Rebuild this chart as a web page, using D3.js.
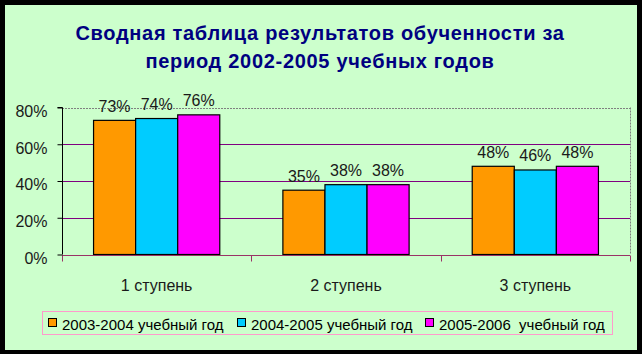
<!DOCTYPE html>
<html><head><meta charset="utf-8">
<script src="https://cdn.jsdelivr.net/npm/d3@7"></script>
<style>html,body{margin:0;padding:0;background:#000;}svg{display:block;}</style>
</head><body>
<script>
const categories = ["1 ступень", "2 ступень", "3 ступень"];
const seriesNames = ["2003-2004 учебный год", "2004-2005 учебный год", "2005-2006  учебный год"];
const series2003 = [0.73, 0.35, 0.48];
const series2004 = [0.74, 0.38, 0.46];
const series2005 = [0.76, 0.38, 0.48];
const yTicks = [0, 0.2, 0.4, 0.6, 0.8];
const titleLines = ["Сводная таблица результатов обученности за", "период 2002-2005 учебных годов"];
const colors = ["#FF9900", "#00CCFF", "#FF00FF"];

const allSeries = [series2003, series2004, series2005];
const W = 642, H = 354;
const svg = d3.select("body").append("svg").attr("width", W).attr("height", H);
svg.append("rect").attr("width", W).attr("height", H).attr("fill", "#000");
svg.append("rect").attr("x", 5).attr("y", 5).attr("width", 632).attr("height", 345).attr("fill", "#CCFFCC");

// title
svg.append("g").selectAll("text").data(titleLines).join("text")
  .attr("x", 320).attr("y", (d, i) => 40 + i * 28)
  .attr("text-anchor", "middle")
  .attr("font-family", "Liberation Sans, Arial, sans-serif")
  .attr("font-weight", "bold").attr("font-size", 20)
  .attr("letter-spacing", 0.7)
  .attr("fill", "#000080").text(d => d);

const x0 = 62, x1 = 630;
const y = d3.scaleLinear().domain([0, 0.8]).range([254.5, 107.5]);
const x = d3.scaleBand().domain(categories).range([x0, x1]).padding(0);
const bw = x.bandwidth() / 4.5;
const xs = d3.scaleBand().domain(d3.range(3)).range([0, bw * 3]);

// gridlines
svg.append("g").selectAll("line").data(yTicks.filter(t => t > 0 && t < 0.8)).join("line")
  .attr("x1", x0).attr("x2", x1)
  .attr("y1", d => Math.round(y(d)) + 0.5).attr("y2", d => Math.round(y(d)) + 0.5)
  .attr("stroke", "#800080").attr("stroke-width", 1);
// plot border top & right (dashed gray)
svg.append("line").attr("x1", x0).attr("x2", x1).attr("y1", Math.round(y(0.8)) + 0.5).attr("y2", Math.round(y(0.8)) + 0.5)
  .attr("stroke", "#808080").attr("stroke-dasharray", "2,1");
svg.append("line").attr("x1", x1 + 0.5).attr("x2", x1 + 0.5).attr("y1", y(0.8)).attr("y2", y(0))
  .attr("stroke", "#808080").attr("stroke-dasharray", "2,1");

// bars
const bars = svg.append("g");
allSeries.forEach((vals, si) => {
  bars.selectAll(null).data(vals).join("rect")
    .attr("x", (d, i) => x(categories[i]) + x.bandwidth() / 6 + xs(si))
    .attr("y", d => y(d))
    .attr("width", bw)
    .attr("height", d => y(0) - y(d))
    .attr("fill", colors[si]).attr("stroke", "#000").attr("stroke-width", 1.2);
});
// labels
allSeries.forEach((vals, si) => {
  svg.append("g").selectAll("text").data(vals).join("text")
    .attr("x", (d, i) => x(categories[i]) + x.bandwidth() / 6 + xs(si) + bw / 2)
    .attr("y", d => y(d) - 8.5)
    .attr("text-anchor", "middle")
    .attr("font-family", "Liberation Sans, Arial, sans-serif").attr("font-size", 16)
    .attr("fill", "#1a1a1a")
    .text(d => d3.format(".0%")(d));
});

// x axis
const xAxis = svg.append("g").attr("transform", `translate(0,${Math.round(y(0)) + 0.5})`);
xAxis.append("line").attr("x1", x0).attr("x2", x1).attr("stroke", "#993366");
xAxis.selectAll("line.tk").data(categories.concat(["end"])).join("line").attr("class", "tk")
  .attr("x1", (d, i) => Math.round(x0 + i * x.bandwidth()) + 0.5)
  .attr("x2", (d, i) => Math.round(x0 + i * x.bandwidth()) + 0.5)
  .attr("y1", 0).attr("y2", 6).attr("stroke", "#993366");
xAxis.selectAll("text").data(categories).join("text")
  .attr("x", d => x(d) + x.bandwidth() / 2).attr("y", 35)
  .attr("text-anchor", "middle")
  .attr("font-family", "Liberation Sans, Arial, sans-serif").attr("font-size", 16)
  .attr("fill", "#1a1a1a").text(d => d);

// y axis
const yAxis = svg.append("g").attr("transform", `translate(${x0 + 0.5},0)`)
  .call(d3.axisLeft(y).tickValues(yTicks).tickFormat(d3.format(".0%")).tickSize(5).tickPadding(10));
yAxis.select(".domain").attr("stroke", "#000").attr("d", `M-5,${y(0.8)}H0V${y(0)}`);
yAxis.selectAll(".tick line").attr("stroke", "#000");
yAxis.selectAll(".tick text").attr("font-family", "Liberation Sans, Arial, sans-serif")
  .attr("font-size", 16).attr("fill", "#1a1a1a").attr("dy", "0.55em");

// legend
const lg = svg.append("g");
lg.append("rect").attr("x", 42.5).attr("y", 311.5).attr("width", 570).attr("height", 23)
  .attr("fill", "none").attr("stroke", "#FF99CC");
const lx = [48, 237, 425];
seriesNames.forEach((n, i) => {
  lg.append("rect").attr("x", lx[i] + 0.5).attr("y", 318.5).attr("width", 8).attr("height", 8)
    .attr("fill", colors[i]).attr("stroke", "#000");
  lg.append("text").attr("x", lx[i] + 14).attr("y", 330)
    .attr("font-family", "Liberation Sans, Arial, sans-serif").attr("font-size", 15)
    .attr("fill", "#000").style("white-space", "pre").text(n);
});
</script>
</body></html>
